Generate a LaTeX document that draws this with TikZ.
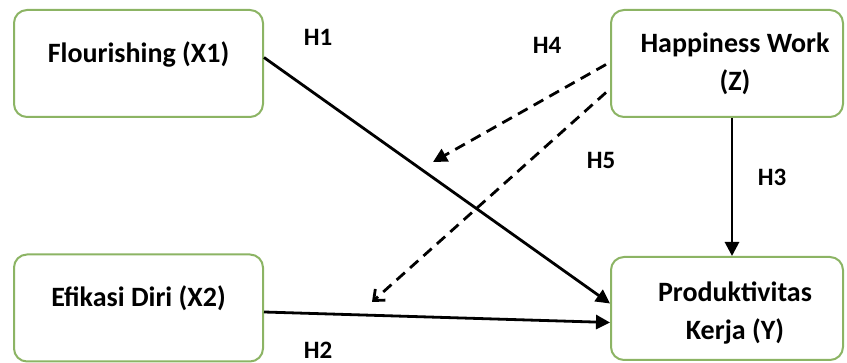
\documentclass[tikz,border=0pt]{standalone}
\usepackage{fontspec}
\setmainfont{Carlito}
\usetikzlibrary{arrows.meta,calc}
\definecolor{boxgreen}{RGB}{140,180,100}
\tikzset{
  x=1pt,y=-1pt,
  box/.style={draw=boxgreen,line width=2pt,rounded corners=13pt,minimum width=249pt,minimum height=107pt,inner sep=0pt,fill=white},
  txt/.style={font=\fontsize{28}{38}\selectfont\bfseries,align=center,inner sep=0pt},
  hlab/.style={font=\fontsize{25}{28}\selectfont\bfseries,inner sep=0pt},
  solidarrow/.style={line width=2.8pt,-{Triangle[length=14pt,width=14pt]}},
  dasharrow/.style={line width=2.8pt,dash pattern=on 11pt off 7pt},
}
\begin{document}
\begin{tikzpicture}
\useasboundingbox (0,0) rectangle (847,363);
\node[box] (fl) at (138.5,63.5) {};
\node[box] (ef) at (138.5,308) {};
\node[box,minimum width=232pt] (hw) at (727,63.5) {};
\node[box,minimum width=232pt,minimum height=103pt] (pk) at (727,308.5) {};
\node[txt] (flt) at (138.5,54) {Flourishing (X1)};
\node[txt] (eft) at (138.5,298) {Efikasi Diri (X2)};
\node[txt] (hwt) at (735,64) {Happiness Work\\(Z)};
\node[txt] (pkt) at (735,313) {Produktivitas\\Kerja (Y)};
\coordinate (h4end) at (433,162);
\coordinate (h5end) at (372,302);
\draw[solidarrow] ($(fl.east)+(0,-6)$) -- ($(pk.west)+(0,-5)$);
\draw[solidarrow] ($(ef.east)+(0,4)$) -- ($(pk.west)+(0,14)$);
\draw[solidarrow] ($(hw.south)+(5,0)$) -- ($(pk.north)+(5,0)$);
\draw[dasharrow,-{Triangle[length=14pt,width=14pt]}] ($(hw.west)+(-4,1)$) -- (h4end);
\draw[dasharrow,-{Straight Barb[length=9pt,width=15pt,line width=2.8pt]}] ($(hw.west)+(-4,29)$) -- (h5end);
\node[hlab] (h1) at (318,37) {H1};
\node[hlab] (h4) at (547,45) {H4};
\node[hlab] (h5) at (601,160) {H5};
\node[hlab] (h3) at (772,177) {H3};
\node[hlab] (h2) at (318,350) {H2};
\end{tikzpicture}
\end{document}
